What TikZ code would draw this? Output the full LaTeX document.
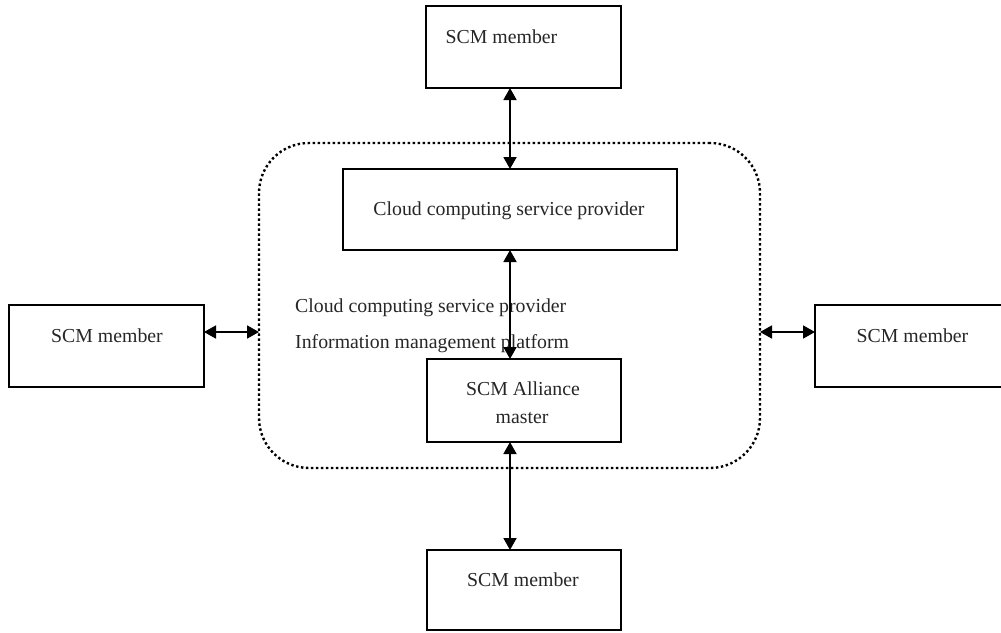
\documentclass[tikz,border=0pt]{standalone}
\usepackage{fontspec}
\setmainfont{Liberation Serif}
\usetikzlibrary{arrows.meta}
\begin{document}
\begin{tikzpicture}[x=1pt,y=-1pt,
  box/.style={draw=black, line width=1.7pt, inner sep=0pt, outer sep=0pt},
  txt/.style={anchor=base, inner sep=0pt, text=black!85, font=\fontsize{19.8}{24}\selectfont},
  ltxt/.style={txt, anchor=base west},
  arr/.style={line width=1.8pt, {Triangle[length=12pt,width=13pt]}-{Triangle[length=12pt,width=13pt]}},
  platformarea/.style={draw=black, line width=2.4pt, dash pattern=on 2.4pt off 2.6pt, rounded corners=50pt, inner sep=0pt, outer sep=0pt}
]
\useasboundingbox (0,0) rectangle (1001,632);
% boxes
\node[box, minimum width=195pt, minimum height=82pt] (top) at (523.5,47) {};
\node[box, minimum width=195pt, minimum height=82pt] (lm) at (106.5,346) {};
\node[box, minimum width=195pt, minimum height=82pt] (rm) at (912.5,346) {};
\node[box, minimum width=334pt, minimum height=81pt] (cloud) at (510,209.5) {};
\node[box, minimum width=194pt, minimum height=83pt] (master) at (524,400.5) {};
\node[box, minimum width=194pt, minimum height=80pt] (bot) at (524,590) {};
% dotted platform area
\node[platformarea, minimum width=501pt, minimum height=325pt] (area) at (509.5,305.5) {};
% texts
\node[txt] (ttop) at (501.5,43) {SCM member};
\node[txt] (tlm) at (107,342) {SCM member};
\node[txt] (trm) at (912.5,342) {SCM member};
\node[txt] (tcloud) at (509,215) {Cloud computing service provider};
\node[ltxt] (tp1) at (295,312) {Cloud computing service provider};
\node[ltxt] (tp2) at (295,348) {Information management platform};
\node[txt] (tm1) at (523,395) {SCM Alliance};
\node[txt] (tm2) at (522,423) {master};
\node[txt] (tbot) at (523,586) {SCM member};
% connectors
\coordinate (la) at (259,332);
\coordinate (ra) at (760,332);
\draw[arr] (cloud.north |- top.south) -- (cloud.north);
\draw[arr] (cloud.south) -- (cloud.south |- master.north);
\draw[arr] (cloud.south |- master.south) -- (cloud.south |- bot.north);
\draw[arr] (lm.east |- la) -- (la);
\draw[arr] (ra) -- (ra -| rm.west);
\end{tikzpicture}
\end{document}
